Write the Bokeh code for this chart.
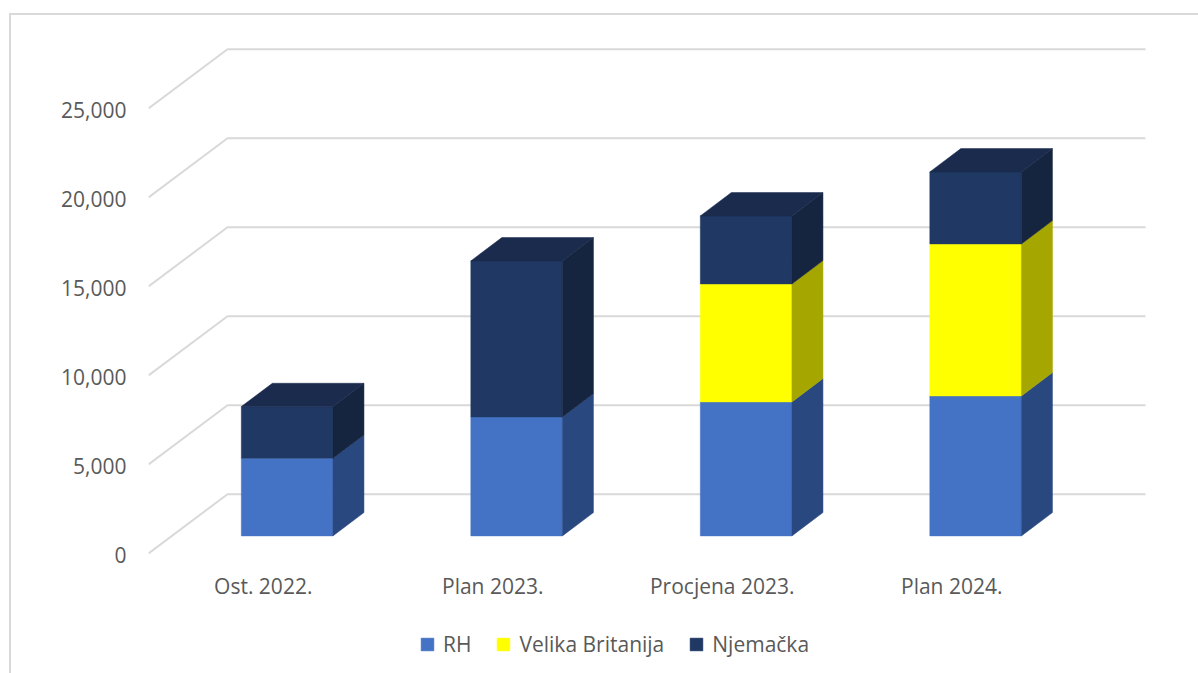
from bokeh.plotting import figure
from bokeh.embed import file_html
from bokeh.resources import INLINE
from bokeh.models import FixedTicker, NumeralTickFormatter, Legend, LegendItem, Range1d, LinearAxis

categories = ["Ost. 2022.", "Plan 2023.", "Procjena 2023.", "Plan 2024."]
series_names = ["RH", "Velika Britanija", "Njemačka"]
rh = [4365, 6685, 7528, 7865]
velika_britanija = [0, 0, 6629, 8539]
njemacka = [2900, 8765, 3821, 4045]
y_ticks = [0, 5000, 10000, 15000, 20000, 25000]

front_colors = ["#4472C4", "#FFFF00", "#1F3864"]
side_colors = ["#2A4880", "#A6A600", "#15243F"]
top_color = "#1A2B4D"
grid_color = "#D9D9D9"
text_color = "#595959"

# oblique projection parameters (data units)
PX_CAT = 229.5
PX_VAL = 0.0178
DX = 79 / PX_CAT
DY = 59.3 / PX_VAL
D0, D1 = 0.297, 0.69
BAR = 91.6 / PX_CAT
BAR_CENTER = 0.5 + 0.4 / PX_CAT

FL, FT, FR = 137, 7, 48
W, H = 1189, 660
FLOOR_FROM_BOTTOM = 122  # pixels kept below the zero line for labels and legend
LABEL_SHIFT = 1.5        # value labels sit this many pixels below the zero-line mapping

y0_range = -FLOOR_FROM_BOTTOM / PX_VAL
y1_range = (H - FT - FLOOR_FROM_BOTTOM) / PX_VAL

p = figure(width=W, height=H, output_backend="svg", toolbar_location=None,
           min_border_left=FL, min_border_top=FT, min_border_right=FR, min_border_bottom=0,
           x_range=Range1d(0, (W - FL - FR) / PX_CAT),
           y_range=Range1d(y0_range, y1_range),
           y_axis_location=None,
           outline_line_color=None, background_fill_color="white", border_fill_color="white",
           margin=(13, 0, 0, 9),
           styles={"border-left": f"2px solid {grid_color}", "border-top": f"2px solid {grid_color}"})
p.grid.visible = False
p.extra_y_ranges = {"labels": Range1d(y0_range + LABEL_SHIFT / PX_VAL, y1_range + LABEL_SHIFT / PX_VAL)}

# walls: slanted floor-to-back lines and back gridlines
xs, ys = [], []
for v in y_ticks:
    xs.append([0, DX, DX + len(categories)])
    ys.append([v, v + DY, v + DY])
p.multi_line(xs, ys, line_color=grid_color, line_width=2)

n = len(categories)
stack = [rh, velika_britanija, njemacka]
base = [0] * n
front_renderers = [None, None, None]
for s, vals in enumerate(stack):
    for i in range(n):
        if vals[i] == 0:
            continue
        x0 = i + BAR_CENTER - BAR / 2 + DX * D0
        x1 = x0 + BAR
        y0 = base[i] + DY * D0
        y1 = y0 + vals[i]
        r = p.quad(left=[x0], right=[x1], bottom=[y0], top=[y1],
                   fill_color=front_colors[s], line_color=front_colors[s], line_width=0.5)
        if front_renderers[s] is None:
            front_renderers[s] = r
        ddx = DX * (D1 - D0)
        ddy = DY * (D1 - D0)
        p.patch([x1, x1 + ddx, x1 + ddx, x1], [y0, y0 + ddy, y1 + ddy, y1],
                fill_color=side_colors[s], line_color=side_colors[s], line_width=0.5)
    base = [b + v for b, v in zip(base, vals)]

for i in range(n):
    x0 = i + BAR_CENTER - BAR / 2 + DX * D0
    x1 = x0 + BAR
    y1 = base[i] + DY * D0
    ddx = DX * (D1 - D0)
    ddy = DY * (D1 - D0)
    p.patch([x0, x1, x1 + ddx, x0 + ddx], [y1, y1, y1 + ddy, y1 + ddy],
            fill_color=top_color, line_color=top_color, line_width=0.5)

# axes
yaxis = LinearAxis(y_range_name="labels", ticker=FixedTicker(ticks=y_ticks),
                   formatter=NumeralTickFormatter(format="0,0"),
                   axis_line_color=None, major_tick_line_color=None, minor_tick_line_color=None,
                   major_label_standoff=16, major_label_text_font="Open Sans",
                   major_label_text_font_size="21px", major_label_text_color=text_color)
p.add_layout(yaxis, "left")

p.xaxis.fixed_location = 0
p.xaxis.ticker = FixedTicker(ticks=[i + 0.5 for i in range(n)])
p.xaxis.major_label_overrides = {i + 0.5: c for i, c in enumerate(categories)}
p.xaxis.axis_line_color = None
p.xaxis.major_tick_line_color = None
p.xaxis.minor_tick_line_color = None
p.xaxis.major_label_standoff = 12
p.xaxis.major_label_text_font = "Open Sans"
p.xaxis.major_label_text_font_size = "21px"
p.xaxis.major_label_text_color = text_color

# legend
legend = Legend(items=[LegendItem(label=nm, renderers=[r]) for nm, r in zip(series_names, front_renderers)],
                location=(271, 17), orientation="horizontal",
                glyph_width=16, glyph_height=16, label_standoff=8, spacing=24, padding=0, margin=0,
                border_line_color=None, background_fill_alpha=0,
                label_text_font="Open Sans", label_text_font_size="21px", label_text_color=text_color)
p.add_layout(legend, "center")

open("out.html", "w").write(file_html(p, INLINE))
